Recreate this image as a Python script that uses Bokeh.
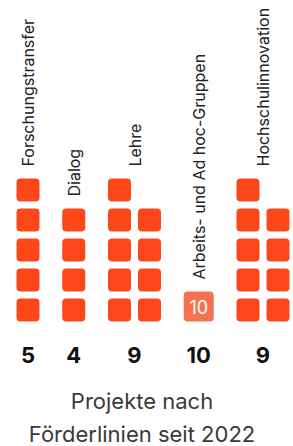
import math
from bokeh.plotting import figure
from bokeh.models import Range1d, ColumnDataSource
from bokeh.core.properties import value
from bokeh.embed import file_html
from bokeh.resources import INLINE

# ---- data ----
categories = ["Forschungstransfer", "Dialog", "Lehre",
              "Arbeits- und Ad hoc-Gruppen", "Hochschulinnovation"]
counts = [5, 4, 9, 10, 9]
title_lines = ["Projekte nach", "Förderlinien seit 2022"]

# ---- layout (pixel-like data space, y grows downward) ----
PER_COL = 5
CELL = 23
PITCH = 30
TILE = 30
GROUP_GAP = 22.75
X0 = 16
BASE_Y = 321
LABEL_GAP = 12
COMPACT_AT = 10

FONT = "Inter"
COLOR = "#fc471a"
COLOR_COMPACT = "#f6714f"

W, H = 293, 446
p = figure(width=W, height=H, output_backend="svg", toolbar_location=None,
           x_range=Range1d(0, W), y_range=Range1d(H, 0), min_border=0)
p.axis.visible = False
p.xgrid.visible = False
p.ygrid.visible = False
p.outline_line_color = None
p.background_fill_color = "white"
p.border_fill_color = "white"

sq = dict(left=[], right=[], top=[], bottom=[])
cp = dict(left=[], right=[], top=[], bottom=[], cx=[], cy=[], txt=[])
lab = dict(x=[], y=[], txt=[])
num = dict(x=[], y=[], txt=[])

x = X0
for cat, c in zip(categories, counts):
    if c >= COMPACT_AT:
        w = TILE
        cp["left"].append(x); cp["right"].append(x + TILE)
        cp["bottom"].append(BASE_Y); cp["top"].append(BASE_Y - TILE)
        cp["cx"].append(x + TILE / 2); cp["cy"].append(BASE_Y - TILE / 2)
        cp["txt"].append(str(c))
        stack_top = BASE_Y - TILE
    else:
        ncol = math.ceil(c / PER_COL)
        w = (ncol - 1) * PITCH + CELL
        for i in range(c):
            col, row = divmod(i, PER_COL)
            b = BASE_Y - row * PITCH
            sq["left"].append(x + col * PITCH); sq["right"].append(x + col * PITCH + CELL)
            sq["bottom"].append(b); sq["top"].append(b - CELL)
        stack_top = BASE_Y - (min(c, PER_COL) - 1) * PITCH - CELL
    cx = x + w / 2
    lab["x"].append(cx); lab["y"].append(stack_top - LABEL_GAP); lab["txt"].append(cat)
    num["x"].append(cx); num["y"].append(354); num["txt"].append(str(c))
    x += w + GROUP_GAP

p.quad(left="left", right="right", top="top", bottom="bottom", source=ColumnDataSource(sq),
       fill_color=COLOR, line_color=None, border_radius=4)
p.quad(left="left", right="right", top="top", bottom="bottom",
       source=ColumnDataSource({k: cp[k] for k in ["left", "right", "top", "bottom"]}),
       fill_color=COLOR_COMPACT, line_color=None, border_radius=4)
p.text(x=cp["cx"], y=cp["cy"], text=cp["txt"], text_align="center", text_baseline="middle",
       text_font=value(FONT), text_font_size="18px", text_color="white")

p.text(x="x", y="y", text="txt", source=ColumnDataSource(lab), angle=math.pi / 2,
       text_align="left", text_baseline="middle", text_font=value(FONT),
       text_font_size="16px", text_color="#222222")

p.text(x="x", y="y", text="txt", source=ColumnDataSource(num), text_align="center",
       text_baseline="alphabetic", text_font=value(FONT), text_font_size="22px",
       text_color="#111111", text_font_style="bold")

p.text(x=[141.5, 141.5], y=[400, 433], text=title_lines, text_align="center",
       text_baseline="alphabetic", text_font=value(FONT), text_font_size="22px",
       text_color="#3a3a3a")

open("out.html", "w").write(file_html(p, INLINE))
